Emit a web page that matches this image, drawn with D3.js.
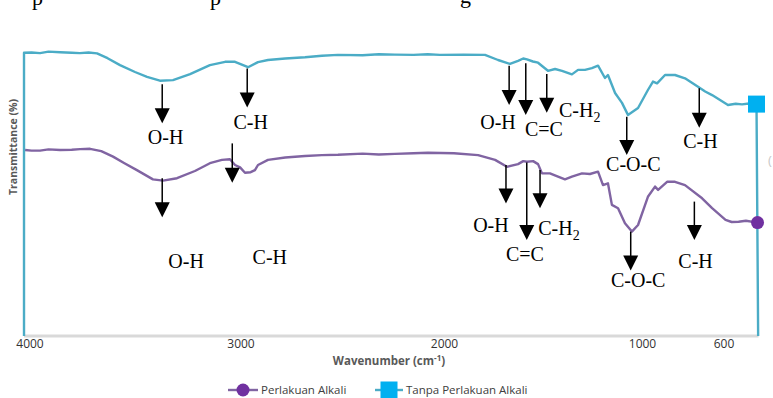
<!DOCTYPE html>
<html>
<head>
<meta charset="utf-8">
<script src="https://cdn.jsdelivr.net/npm/d3@7/dist/d3.min.js"></script>
<style>
  html, body { margin: 0; padding: 0; background: #ffffff; }
  svg { display: block; }
</style>
</head>
<body>
<svg id="chart" width="773" height="398"></svg>
<script>
// ---------------- data ----------------
const xTickValues = [4000, 3000, 2000, 1000, 600];

// Tanpa Perlakuan Alkali (cyan) – wavenumber (cm-1) and transmittance (arbitrary %)
const cyanWn = [4026, 4026, 3990, 3950, 3910, 3855, 3800, 3761, 3720, 3680, 3630, 3571, 3500, 3443, 3382, 3320, 3239, 3145, 3073, 3026, 2963, 2914, 2865, 2780, 2683, 2600, 2521, 2400, 2320, 2241, 2150, 2080, 2020, 1900, 1793, 1727, 1667, 1626, 1600, 1581, 1551, 1525, 1475, 1439, 1404, 1354, 1323, 1288, 1253, 1222, 1187, 1172, 1136, 1101, 1071, 1020, 971, 946, 926, 887, 838, 789, 725, 690, 656, 578, 540, 509, 475, 438, 430];
const cyanT  = [0, 94.4, 94.5, 94.3, 94.8, 94.6, 94.4, 94.3, 94.5, 94.2, 92.6, 90.3, 88.0, 86.4, 85.1, 85.3, 87.3, 90.3, 91.4, 91.4, 89.6, 91.3, 92.0, 92.5, 92.9, 93.4, 93.7, 93.6, 93.9, 93.8, 93.7, 93.9, 93.7, 93.8, 93.7, 92.0, 90.7, 91.7, 92.5, 92.2, 91.5, 91.1, 88.4, 89.0, 88.4, 87.2, 88.7, 88.7, 89.3, 90.1, 86.0, 87.0, 81.0, 77.7, 73.7, 76.0, 82.0, 84.8, 84.2, 87.0, 87.0, 85.9, 83.1, 81.5, 80.3, 77.0, 77.4, 77.2, 77.5, 77.3, 0];

// Perlakuan Alkali (purple)
const purpleWn = [4021, 3990, 3950, 3910, 3855, 3800, 3760, 3713, 3660, 3604, 3550, 3491, 3415, 3367, 3301, 3216, 3145, 3088, 3050, 3026, 3002, 2978, 2950, 2929, 2914, 2865, 2780, 2683, 2600, 2521, 2400, 2320, 2241, 2150, 2079, 1950, 1828, 1742, 1682, 1626, 1600, 1581, 1550, 1525, 1505, 1465, 1424, 1389, 1354, 1303, 1263, 1222, 1197, 1172, 1152, 1121, 1086, 1051, 1020, 971, 936, 921, 877, 838, 789, 705, 656, 590, 560, 526, 490, 433];
const purpleT  = [62.0, 61.8, 61.8, 62.2, 62.0, 62.1, 62.3, 62.4, 61.6, 59.8, 57.6, 55.3, 52.2, 51.8, 52.6, 55.0, 57.6, 58.7, 58.9, 57.0, 56.2, 54.4, 54.6, 55.3, 57.0, 58.7, 59.5, 60.0, 60.3, 60.4, 60.8, 60.5, 60.7, 60.9, 61.1, 60.9, 60.3, 58.7, 56.4, 57.3, 58.3, 58.1, 58.3, 57.3, 54.2, 54.2, 53.1, 52.2, 53.1, 54.2, 54.0, 54.8, 50.3, 50.9, 43.7, 42.6, 37.6, 34.8, 37.0, 46.4, 49.8, 48.7, 51.4, 51.4, 50.3, 45.9, 42.6, 38.7, 38.0, 38.1, 38.4, 37.8];

// Band annotations: label, arrow wavenumber, arrow top / tip transmittance, label position
const bandLabels = ["O-H", "C-H", "O-H", "C=C", "C-H", "C-O-C", "C-H",
                    "O-H", "C-H", "O-H", "C=C", "C-H", "C-O-C", "C-H"];
const bandSub    = ["", "", "", "", "2", "", "",
                    "", "", "", "", "2", "", ""];
const arrowWn    = [3371, 2967, 1671, 1587, 1481, 1077, 719,
                    3371, 3039, 1687, 1582, 1515, 1057, 743];
const arrowTop   = [83.9, 89.2, 90.1, 90.9, 87.3, 73.1, 82.6,
                    52.6, 64.2, 57.0, 57.8, 55.3, 34.8, 44.8];
const arrowTip   = [70.9, 76.2, 77.0, 73.7, 74.4, 60.3, 69.4,
                    39.6, 51.1, 44.2, 32.0, 42.6, 21.8, 32.0];
const labelWn    = [3355, 2950, 1727, 1495, 1419, 1044, 713,
                    3258, 2856, 1763, 1591, 1524, 1019, 737];
const labelT     = [64.0, 69.0, 68.9, 66.7, 72.9, 55.1, 62.6,
                    22.6, 24.0, 34.8, 25.1, 33.7, 16.2, 22.6];

const seriesNames = ["Perlakuan Alkali", "Tanpa Perlakuan Alkali"];
const seriesLine = ["#8064a2", "#4bacc6"];
const seriesMarker = ["#7030a0", "#00b0f0"];

// ---------------- drawing ----------------
const svg = d3.select("#chart");
svg.append("rect").attr("width", 773).attr("height", 398).attr("fill", "#fff");

const x = d3.scaleLinear()
  .domain([4000, 3000, 2000, 1000, 600])
  .range([29.5, 240.5, 444, 642, 723.5]);
const y = d3.scaleLinear().domain([0, 100]).range([336, 36]);

// top page fragments (cropped text line above the figure)
const frag = svg.append("g").attr("font-family", "'Liberation Serif', serif")
  .attr("font-size", 22).attr("fill", "#000");
frag.append("text").attr("x", 32).attr("y", 5).text("p");
frag.append("text").attr("x", 210).attr("y", 5).text("p");
frag.append("text").attr("x", 460).attr("y", 3).text("g");

// x axis base line
svg.append("line")
  .attr("x1", x(4026)).attr("x2", x(428))
  .attr("y1", y(0)).attr("y2", y(0))
  .attr("stroke", "#d9d9d9").attr("stroke-width", 3);

// tick labels
const xAxis = d3.axisBottom(x).tickValues(xTickValues).tickSize(0).tickPadding(0)
  .tickFormat(d3.format("d"));
const gx = svg.append("g").attr("transform", `translate(0,${y(0) + 3})`).call(xAxis);
gx.select(".domain").remove();
gx.selectAll("text")
  .attr("font-family", "'Open Sans', sans-serif")
  .attr("font-size", 12)
  .attr("fill", "#333333")
  .attr("dy", "0.71em");

// axis titles
const xt = svg.append("text")
  .attr("x", 389).attr("y", 365)
  .attr("text-anchor", "middle")
  .attr("font-family", "'Open Sans', sans-serif")
  .attr("font-size", 11.5).attr("font-weight", 700).attr("fill", "#595959");
xt.append("tspan").text("Wavenumber (cm");
xt.append("tspan").attr("dy", -4).attr("font-size", 8).text("-1");
xt.append("tspan").attr("dy", 4).text(")");

svg.append("text")
  .attr("transform", "translate(17,147) rotate(-90)")
  .attr("text-anchor", "middle")
  .attr("font-family", "'Open Sans', sans-serif")
  .attr("font-size", 10.5).attr("font-weight", 700).attr("fill", "#595959")
  .text("Transmittance (%)");

// series lines
const line = d3.line().x(d => x(d[0])).y(d => y(d[1]));
const purple = d3.zip(purpleWn, purpleT);
const cyan = d3.zip(cyanWn, cyanT);

svg.append("path").datum(purple)
  .attr("d", line).attr("fill", "none")
  .attr("stroke", seriesLine[0]).attr("stroke-width", 2.4)
  .attr("stroke-linejoin", "round");
svg.append("path").datum(cyan)
  .attr("d", line).attr("fill", "none")
  .attr("stroke", seriesLine[1]).attr("stroke-width", 2.4)
  .attr("stroke-linejoin", "round");

// end markers
const pEnd = purple[purple.length - 1];
svg.append("circle").attr("cx", x(pEnd[0])).attr("cy", y(pEnd[1])).attr("r", 6.5)
  .attr("fill", seriesMarker[0]);
const cEnd = cyan[cyan.length - 2];
svg.append("rect").attr("x", x(cEnd[0]) - 8.5).attr("y", y(cEnd[1]) - 8.5)
  .attr("width", 17).attr("height", 17).attr("fill", seriesMarker[1]);

// annotations
const ann = svg.append("g");
bandLabels.forEach((lab, i) => {
  const ax = x(arrowWn[i]);
  const y0 = y(arrowTop[i]);
  const y1 = y(arrowTip[i]);
  const headH = 15, headW = 7.5;
  ann.append("line").attr("x1", ax).attr("x2", ax)
    .attr("y1", y0).attr("y2", y1 - headH + 1)
    .attr("stroke", "#000").attr("stroke-width", 1.5);
  ann.append("path")
    .attr("d", `M${ax - headW},${y1 - headH}L${ax + headW},${y1 - headH}L${ax},${y1}Z`)
    .attr("fill", "#000");
  const t = ann.append("text")
    .attr("x", x(labelWn[i])).attr("y", y(labelT[i]))
    .attr("text-anchor", bandSub[i] ? "start" : "middle")
    .attr("font-family", "'Liberation Serif', 'Times New Roman', serif")
    .attr("font-size", 20).attr("fill", "#000");
  t.append("tspan").text(lab);
  if (bandSub[i]) {
    t.append("tspan").attr("dy", 5).attr("font-size", 14).text(bandSub[i]);
  }
});

// right-edge fragment
svg.append("text").attr("x", 768).attr("y", 165)
  .attr("font-family", "'Open Sans', sans-serif").attr("font-size", 13)
  .attr("fill", "#c8c8c8").text("(");

// legend
const lg = svg.append("g")
  .attr("font-family", "'Open Sans', sans-serif")
  .attr("font-size", 11.5).attr("fill", "#404040");
const ly = 390;
lg.append("line").attr("x1", 228).attr("x2", 258).attr("y1", ly).attr("y2", ly)
  .attr("stroke", seriesLine[0]).attr("stroke-width", 2.4);
lg.append("circle").attr("cx", 243).attr("cy", ly).attr("r", 6.5).attr("fill", seriesMarker[0]);
lg.append("text").attr("x", 261).attr("y", ly + 4).text(seriesNames[0]);
lg.append("line").attr("x1", 375).attr("x2", 403).attr("y1", ly).attr("y2", ly)
  .attr("stroke", seriesLine[1]).attr("stroke-width", 2.4);
lg.append("rect").attr("x", 380.5).attr("y", ly - 8.5).attr("width", 17).attr("height", 17)
  .attr("fill", seriesMarker[1]);
lg.append("text").attr("x", 406).attr("y", ly + 4).text(seriesNames[1]);
</script>
</body>
</html>
